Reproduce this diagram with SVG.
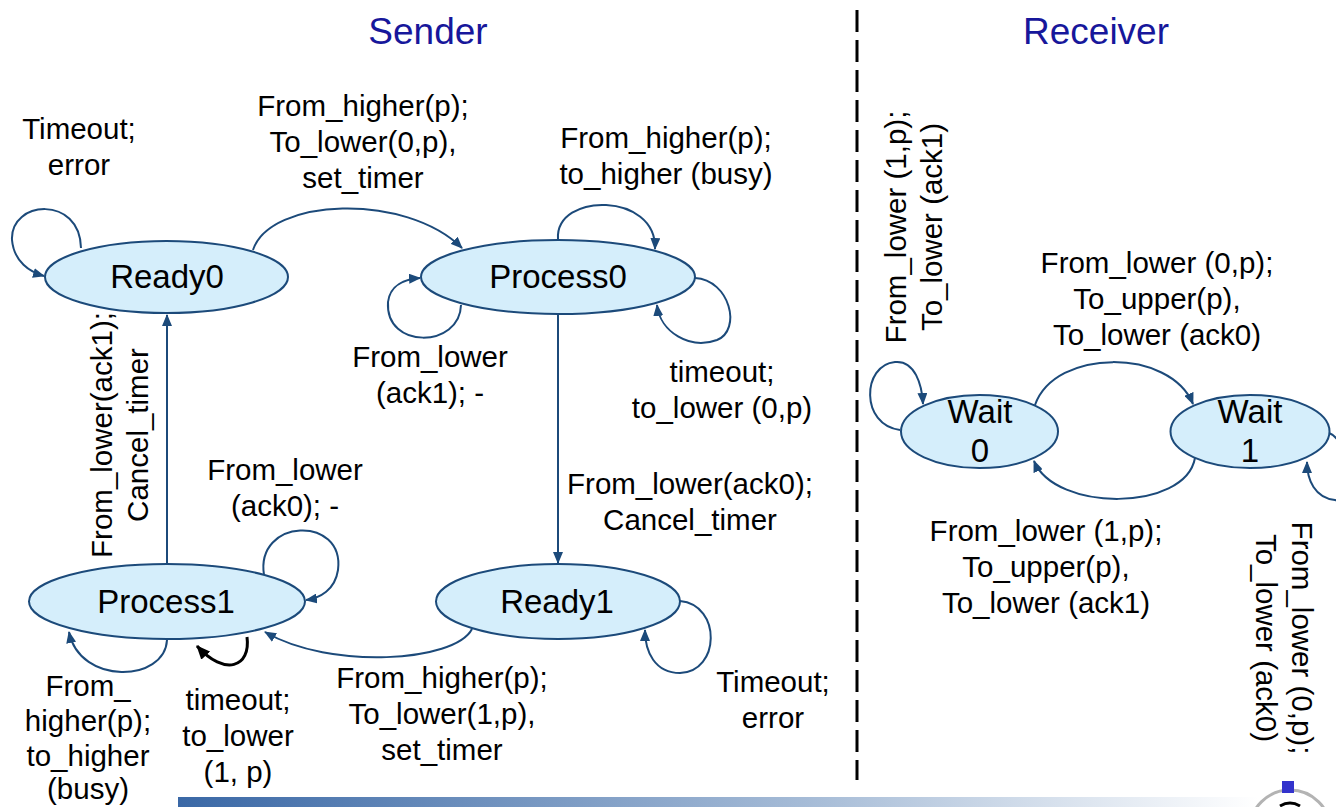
<svg xmlns="http://www.w3.org/2000/svg" width="1336" height="807" viewBox="0 0 1336 807">
  <style>
    .state { fill: #d5eefb; stroke: #1c4a7a; stroke-width: 2; }
    .name { font-family: "Liberation Sans", Arial, sans-serif; font-size: 33px; fill: #000; text-anchor: middle; }
    .lbl { font-family: "Liberation Sans", Arial, sans-serif; font-size: 29.5px; fill: #000; text-anchor: middle; }
    .title { font-family: "Liberation Sans", Arial, sans-serif; font-size: 37px; fill: #17179b; text-anchor: middle; }
    .edge { fill: none; stroke: #1c4a7a; stroke-width: 2; marker-end: url(#arr); }
    .edge-black { fill: none; stroke: #000; stroke-width: 3; marker-end: url(#arrBlack); }
  </style>
  <defs>
    <marker id="arr" viewBox="0 0 12 10" refX="11" refY="5" markerWidth="12" markerHeight="10" markerUnits="userSpaceOnUse" orient="auto">
      <path d="M0,0 L12,5 L0,10 z" fill="#1c4a7a"/>
    </marker>
    <marker id="arrBlack" viewBox="0 0 14 12" refX="13" refY="6" markerWidth="14" markerHeight="12" markerUnits="userSpaceOnUse" orient="auto">
      <path d="M0,0 L14,6 L0,12 z" fill="#000"/>
    </marker>
    <linearGradient id="barGrad" x1="0" y1="0" x2="1" y2="0">
      <stop offset="0" stop-color="#3a68a6"/>
      <stop offset="0.6" stop-color="#a9bed8"/>
      <stop offset="1" stop-color="#ffffff"/>
    </linearGradient>
  </defs>

  <rect width="1336" height="807" fill="#ffffff"/>

  <!-- section titles and divider -->
  <text class="title" x="428" y="44">Sender</text>
  <text class="title" x="1096" y="44">Receiver</text>
  <line x1="857" y1="10" x2="857" y2="780" stroke="#000" stroke-width="3" stroke-dasharray="22 8"/>

  <!-- transitions -->
  <g id="connectors">
    <!-- sender -->
    <path class="edge" d="M81,248 C80,195 10,200 12,240 C14,262 30,272 44,276"/>
    <path class="edge" d="M253,250 C270,198 405,192 462,248"/>
    <path class="edge" d="M558,239 C555,192 657,192 655,249"/>
    <path class="edge" d="M461,305 C460,348 385,350 388,302 C390,285 405,279 420,278"/>
    <path class="edge" d="M695,278 C730,280 742,330 717,340 C690,350 660,332 657,305"/>
    <path class="edge" d="M558,314 L558,563"/>
    <path class="edge" d="M680,601 C722,605 720,672 680,673 C655,673 645,652 645,630"/>
    <path class="edge" d="M472,629 C455,662 330,670 265,632"/>
    <path class="edge" d="M167,563 L167,315"/>
    <path class="edge" d="M264,575 C255,518 345,515 338,570 C335,590 320,598 306,600"/>
    <path class="edge" d="M167,640 C165,682 80,686 69,632"/>
    <path class="edge-black" d="M247,637 C251,667 225,677 197,646"/>
    <!-- receiver -->
    <path class="edge" d="M900,430 C860,425 862,365 895,362 C915,360 922,385 923,404"/>
    <path class="edge" d="M1035,405 C1055,348 1170,348 1193,404"/>
    <path class="edge" d="M1195,458 C1185,512 1055,512 1034,461"/>
    <path class="edge" d="M1329,433 C1350,440 1355,505 1335,500 C1315,498 1307,480 1307,462"/>
  </g>

  <!-- states -->
  <g id="ready0">
    <ellipse class="state" cx="166.5" cy="277" rx="121.5" ry="36"/>
    <text class="name" x="167" y="288">Ready0</text>
  </g>
  <g id="process0">
    <ellipse class="state" cx="558" cy="277" rx="137" ry="37"/>
    <text class="name" x="558" y="288">Process0</text>
  </g>
  <g id="process1">
    <ellipse class="state" cx="167" cy="601.5" rx="138" ry="37.5"/>
    <text class="name" x="166" y="613">Process1</text>
  </g>
  <g id="ready1">
    <ellipse class="state" cx="558" cy="601.5" rx="122" ry="37.5"/>
    <text class="name" x="557" y="613">Ready1</text>
  </g>
  <g id="wait0">
    <ellipse class="state" cx="979.5" cy="431.5" rx="78.5" ry="36.5"/>
    <text class="name" x="980" y="423">Wait</text>
    <text class="name" x="980" y="462">0</text>
  </g>
  <g id="wait1">
    <ellipse class="state" cx="1250" cy="431.5" rx="79.5" ry="36.5"/>
    <text class="name" x="1250" y="423">Wait</text>
    <text class="name" x="1250" y="462">1</text>
  </g>

  <!-- transition labels -->
  <g id="labels">
    <text class="lbl" x="79" y="139">Timeout;<tspan x="79" dy="36">error</tspan></text>
    <text class="lbl" x="363" y="116">From_higher(p);<tspan x="363" dy="36">To_lower(0,p),</tspan><tspan x="363" dy="36">set_timer</tspan></text>
    <text class="lbl" x="666" y="148">From_higher(p);<tspan x="666" dy="36">to_higher (busy)</tspan></text>
    <text class="lbl" x="430" y="367">From_lower<tspan x="430" dy="36">(ack1); -</tspan></text>
    <text class="lbl" x="722" y="382">timeout;<tspan x="722" dy="36">to_lower (0,p)</tspan></text>
    <text class="lbl" x="690" y="494">From_lower(ack0);<tspan x="690" dy="36">Cancel_timer</tspan></text>
    <text class="lbl" x="285" y="480">From_lower<tspan x="285" dy="36">(ack0); -</tspan></text>
    <text class="lbl" transform="translate(112,435) rotate(-90)" x="0" y="0">From_lower(ack1);<tspan x="0" dy="36">Cancel_timer</tspan></text>
    <text class="lbl" x="442" y="688">From_higher(p);<tspan x="442" dy="36">To_lower(1,p),</tspan><tspan x="442" dy="36">set_timer</tspan></text>
    <text class="lbl" x="773" y="692">Timeout;<tspan x="773" dy="36">error</tspan></text>
    <text class="lbl" x="88" y="696">From_<tspan x="88" dy="35">higher(p);</tspan><tspan x="88" dy="35">to_higher</tspan><tspan x="88" dy="33">(busy)</tspan></text>
    <text class="lbl" x="238" y="710">timeout;<tspan x="238" dy="36">to_lower</tspan><tspan x="238" dy="36">(1, p)</tspan></text>
    <text class="lbl" transform="translate(906,227) rotate(-90)" x="0" y="0">From_lower (1,p);<tspan x="0" dy="36">To_lower (ack1)</tspan></text>
    <text class="lbl" x="1157" y="273">From_lower (0,p);<tspan x="1157" dy="36">To_upper(p),</tspan><tspan x="1157" dy="36">To_lower (ack0)</tspan></text>
    <text class="lbl" x="1046" y="541">From_lower (1,p);<tspan x="1046" dy="36">To_upper(p),</tspan><tspan x="1046" dy="36">To_lower (ack1)</tspan></text>
    <text class="lbl" transform="translate(1292,638) rotate(90)" x="0" y="0">From_lower (0,p);<tspan x="0" dy="36">To_lower (ack0)</tspan></text>
  </g>

  <!-- footer band and badge -->
  <rect x="178" y="797" width="1080" height="10" fill="url(#barGrad)"/>
  <circle cx="1290" cy="830.5" r="40.5" fill="#ffffff" stroke="#b3b3b3" stroke-width="3"/>
  <path d="M1280,806 Q1290,800 1300,806" fill="none" stroke="#000" stroke-width="3"/>
  <rect x="1282" y="781" width="12" height="12" fill="#3333cc"/>
</svg>
